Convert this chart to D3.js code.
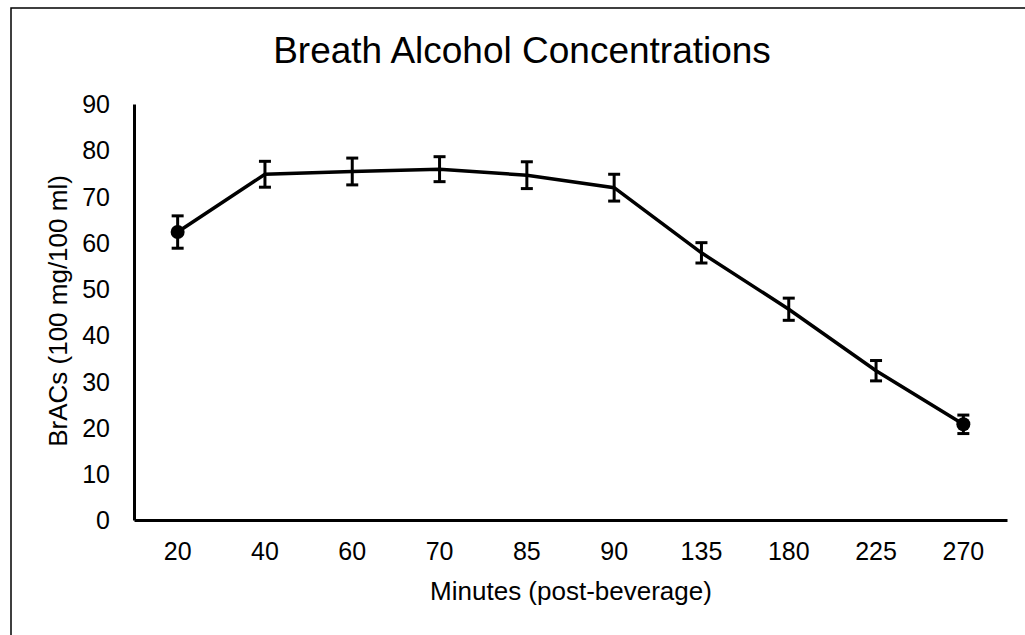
<!DOCTYPE html>
<html>
	<head>
		<script src="https://d3js.org/d3.v7.min.js"></script>
		<style>
			body { margin: 0; background: #fff; }
			text { font-family: "Liberation Sans", Arial, sans-serif; fill: #000; }
		</style>
	</head>
	<body>
		<svg id="chart" width="1025" height="635"></svg>
		<script>
			// data
			var minutes = ['20', '40', '60', '70', '85', '90', '135', '180', '225', '270'];
			var brac = [62.3, 74.8, 75.4, 75.9, 74.6, 71.9, 57.8, 45.6, 32.3, 20.7];
			var errs = [3.5, 2.8, 2.9, 2.7, 2.9, 2.9, 2.2, 2.4, 2.2, 2.0];
			var yTicks = [0, 10, 20, 30, 40, 50, 60, 70, 80, 90];

			var svg = d3.select('#chart');
			var plotL = 134, plotR = 1007, plotT = 104, plotB = 520;

			// outer frame (runs off the right/bottom of the picture)
			svg.append('rect')
				.attr('x', 11).attr('y', 8)
				.attr('width', 1100).attr('height', 700)
				.attr('fill', 'none').attr('stroke', '#000').attr('stroke-width', 1.5);

			var x = d3.scaleBand().domain(minutes).range([plotL, plotR]);
			var y = d3.scaleLinear().domain([0, 90]).range([plotB, plotT]);

			var data = minutes.map(function(m, i) {
				return {min: m, v: brac[i], e: errs[i]};
			});

			// axes
			var yAxis = svg.append('g')
				.attr('transform', 'translate(' + plotL + ',0)')
				.call(d3.axisLeft(y).tickValues(yTicks).tickSize(0).tickPadding(24));
			yAxis.select('.domain').attr('stroke-width', 3);
			yAxis.selectAll('text').style('font-size', '25px').attr('dy', '0.35em');

			var xAxis = svg.append('g')
				.attr('transform', 'translate(0,' + plotB + ')')
				.call(d3.axisBottom(x).tickSize(0).tickPadding(22));
			xAxis.select('.domain').attr('stroke-width', 3);
			xAxis.selectAll('text').style('font-size', '25px');

			// line
			var cx = function(d) { return x(d.min) + x.bandwidth() / 2; };
			svg.append('path')
				.datum(data)
				.attr('fill', 'none')
				.attr('stroke', '#000')
				.attr('stroke-width', 3.5)
				.attr('d', d3.line().x(cx).y(function(d) { return y(d.v); }));

			// error bars
			var eb = svg.append('g').attr('stroke', '#000').attr('stroke-width', 3);
			eb.selectAll('.stem').data(data).enter().append('line')
				.attr('x1', cx).attr('x2', cx)
				.attr('y1', function(d) { return y(d.v + d.e); })
				.attr('y2', function(d) { return y(d.v - d.e); });
			eb.selectAll('.capt').data(data).enter().append('line')
				.attr('x1', function(d) { return cx(d) - 6; })
				.attr('x2', function(d) { return cx(d) + 6; })
				.attr('y1', function(d) { return y(d.v + d.e); })
				.attr('y2', function(d) { return y(d.v + d.e); });
			eb.selectAll('.capb').data(data).enter().append('line')
				.attr('x1', function(d) { return cx(d) - 6; })
				.attr('x2', function(d) { return cx(d) + 6; })
				.attr('y1', function(d) { return y(d.v - d.e); })
				.attr('y2', function(d) { return y(d.v - d.e); });

			// markers on first and last point only
			svg.selectAll('circle')
				.data([data[0], data[data.length - 1]])
				.enter().append('circle')
				.attr('cx', cx)
				.attr('cy', function(d) { return y(d.v); })
				.attr('r', 7)
				.attr('fill', '#000');

			// titles
			svg.append('text')
				.attr('x', 522).attr('y', 63)
				.attr('text-anchor', 'middle')
				.style('font-size', '37px')
				.text('Breath Alcohol Concentrations');

			svg.append('text')
				.attr('x', 571).attr('y', 600)
				.attr('text-anchor', 'middle')
				.style('font-size', '26px')
				.text('Minutes (post-beverage)');

			svg.append('text')
				.attr('transform', 'translate(67,311) rotate(-90)')
				.attr('text-anchor', 'middle')
				.style('font-size', '26px')
				.text('BrACs (100 mg/100 ml)');
		</script>
	</body>
</html>
